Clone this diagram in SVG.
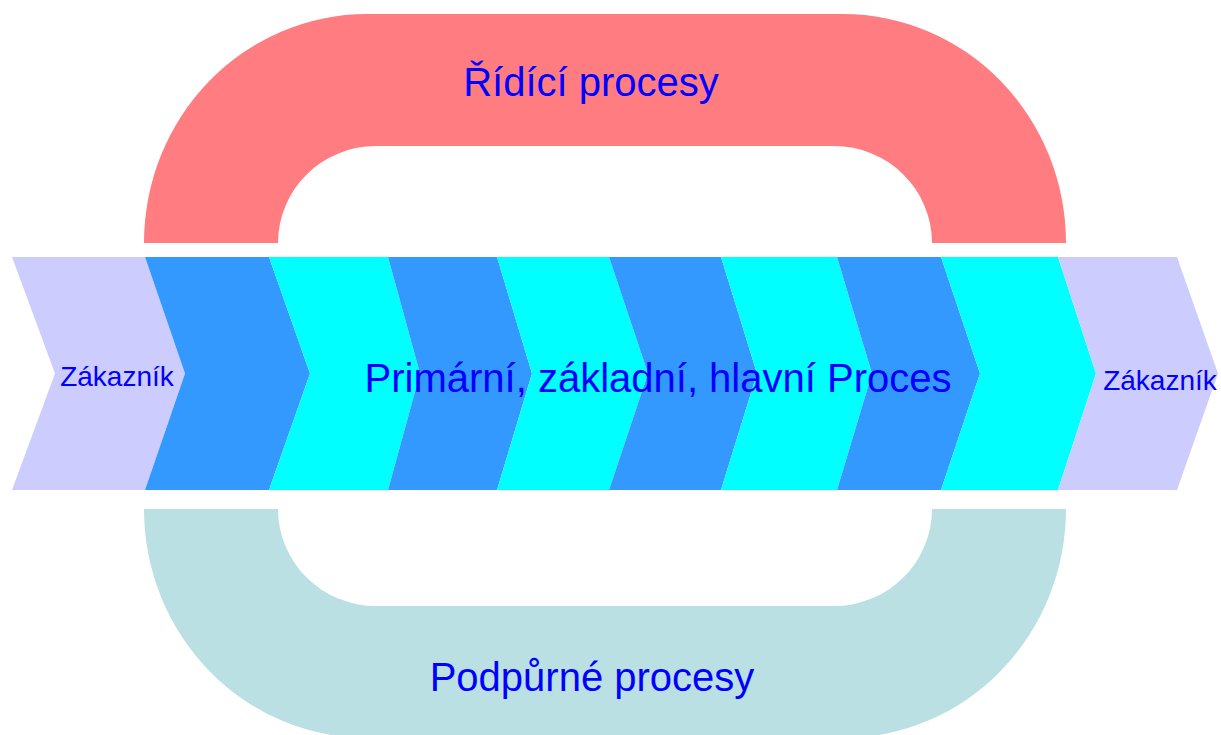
<svg xmlns="http://www.w3.org/2000/svg" width="1221" height="735" viewBox="0 0 1221 735">
  <style>
    .lav { fill: #CCCCFF; }
    .blue { fill: #3399FF; }
    .cyan { fill: #00FFFF; }
    .ctrl { fill: #FF7C80; }
    .supp { fill: #BBE0E3; }
    .lbl { font-family: "Liberation Sans", Arial, sans-serif; fill: #0000FF; text-anchor: middle; }
    .big { font-size: 40px; }
    .small { font-size: 28px; }
  </style>
  <rect width="1221" height="735" fill="#FFFFFF"/>

  <!-- management processes arch -->
  <g id="ridici-procesy">
    <path class="ctrl" d="M144,243 A223,229 0 0 1 367,14 H843 A223,229 0 0 1 1066,243 H932 A98,97 0 0 0 834,146 H376 A98,97 0 0 0 278,243 Z"/>
    <text class="lbl big" x="591" y="96">Řídící procesy</text>
  </g>

  <!-- support processes arch -->
  <g id="podpurne-procesy">
    <path class="supp" d="M144,509 A223,229 0 0 0 367,738 H843 A223,229 0 0 0 1066,509 H932 A98,97 0 0 1 834,606 H376 A98,97 0 0 1 278,509 Z"/>
    <text class="lbl big" x="592" y="691">Podpůrné procesy</text>
  </g>

  <!-- customer (input) -->
  <g id="zakaznik-vstup">
    <polygon class="lav" points="12,257 145,257 185,373.5 145,490 12,490 55,373.5"/>
    <text class="lbl small" x="117" y="386">Zákazník</text>
  </g>

  <!-- primary process chain -->
  <g id="primarni-proces">
    <polygon class="blue" points="145,257 269,257 310,373.5 269,490 145,490 185,373.5"/>
    <polygon class="cyan" points="269,257 388,257 420,373.5 388,490 269,490 310,373.5"/>
    <polygon class="blue" points="388,257 497,257 532,373.5 497,490 388,490 420,373.5"/>
    <polygon class="cyan" points="497,257 609,257 648,373.5 609,490 497,490 532,373.5"/>
    <polygon class="blue" points="609,257 721,257 757,373.5 721,490 609,490 648,373.5"/>
    <polygon class="cyan" points="721,257 837,257 872,373.5 837,490 721,490 757,373.5"/>
    <polygon class="blue" points="837,257 941,257 980,373.5 941,490 837,490 872,373.5"/>
    <polygon class="cyan" points="941,257 1058,257 1096,373.5 1058,490 941,490 980,373.5"/>
    <text class="lbl big" x="658" y="392">Primární, základní, hlavní Proces</text>
  </g>

  <!-- customer (output) -->
  <g id="zakaznik-vystup">
    <polygon class="lav" points="1058,257 1177,257 1218,373.5 1177,490 1058,490 1096,373.5"/>
    <text class="lbl small" x="1160" y="390">Zákazník</text>
  </g>

  <g id="connectors"></g>
</svg>
